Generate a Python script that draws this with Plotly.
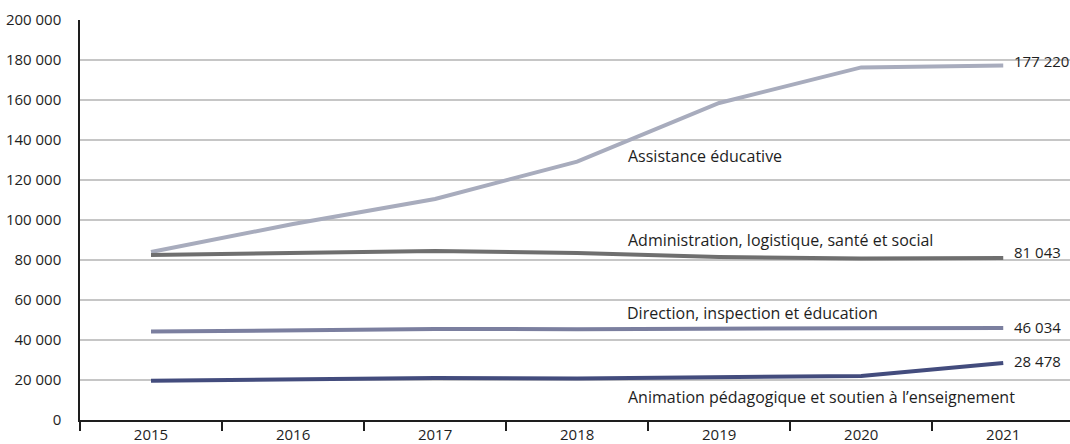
import plotly.graph_objects as go

years = ["2015", "2016", "2017", "2018", "2019", "2020", "2021"]

assistance = [84000, 98000, 110500, 129200, 158500, 176300, 177220]
administration = [82500, 83500, 84500, 83500, 81500, 80800, 81043]
direction = [44200, 44800, 45500, 45400, 45400, 45900, 46034]
animation = [19600, 20500, 21000, 20800, 21200, 22000, 28478]

series_names = [
    "Assistance éducative",
    "Administration, logistique, santé et social",
    "Direction, inspection et éducation",
    "Animation pédagogique et soutien à l’enseignement",
]
series_values = [assistance, administration, direction, animation]
series_colors = ["#a8acbd", "#6f6f6f", "#7b7f9f", "#434c7d"]

# name label placement (x index, y value) and end-value label shift (px)
name_pos = [(3.345, 132000), (3.345, 90000), (3.34, 53500), (3.345, 11300)]
end_shift = [5, 6, 1, 2]

FONT = "'Open Sans', sans-serif"


def fmt(v):
    return f"{v:,}".replace(",", " ")


fig = go.Figure()
for name, vals, col in zip(series_names, series_values, series_colors):
    fig.add_trace(go.Scatter(
        x=years, y=vals, mode="lines", name=name,
        line=dict(color=col, width=4), showlegend=False,
        hoverinfo="skip",
    ))

annotations = []
for name, vals, (nx, ny), sh in zip(series_names, series_values, name_pos, end_shift):
    annotations.append(dict(
        x=nx, y=ny, text=name, showarrow=False, xanchor="left", yanchor="middle",
        font=dict(size=16, color="#1e1e1e", family=FONT),
    ))
    annotations.append(dict(
        x=6, y=vals[-1], text=fmt(vals[-1]), showarrow=False, xanchor="left",
        yanchor="middle", xshift=9, yshift=sh,
        font=dict(size=15, color="#1e1e1e", family=FONT),
    ))

fig.update_layout(
    width=1070, height=444,
    margin=dict(l=80, r=0, t=20, b=24),
    paper_bgcolor="white", plot_bgcolor="white",
    separators=", ",
    font=dict(family=FONT, size=15, color="#1e1e1e"),
    annotations=annotations,
    xaxis=dict(
        type="category", range=[-0.5, 6.47], automargin=False,
        tickson="boundaries", ticks="outside", ticklen=9, tickwidth=1.5,
        tickcolor="#1e1e1e", showgrid=False,
        showline=True, linecolor="#1e1e1e", linewidth=2,
        tickfont=dict(size=15, family=FONT, color="#1e1e1e"),
    ),
    yaxis=dict(
        range=[0, 200000], tickvals=list(range(0, 200001, 20000)),
        tickformat=",d", ticks="", ticklabelstandoff=14, automargin=False,
        showgrid=True, gridcolor="#c6c6c6", gridwidth=1.5,
        zeroline=False, showline=True, linecolor="#1e1e1e", linewidth=1.5,
        tickfont=dict(size=15, family=FONT, color="#1e1e1e"),
    ),
)

fig.write_html("out.html")
